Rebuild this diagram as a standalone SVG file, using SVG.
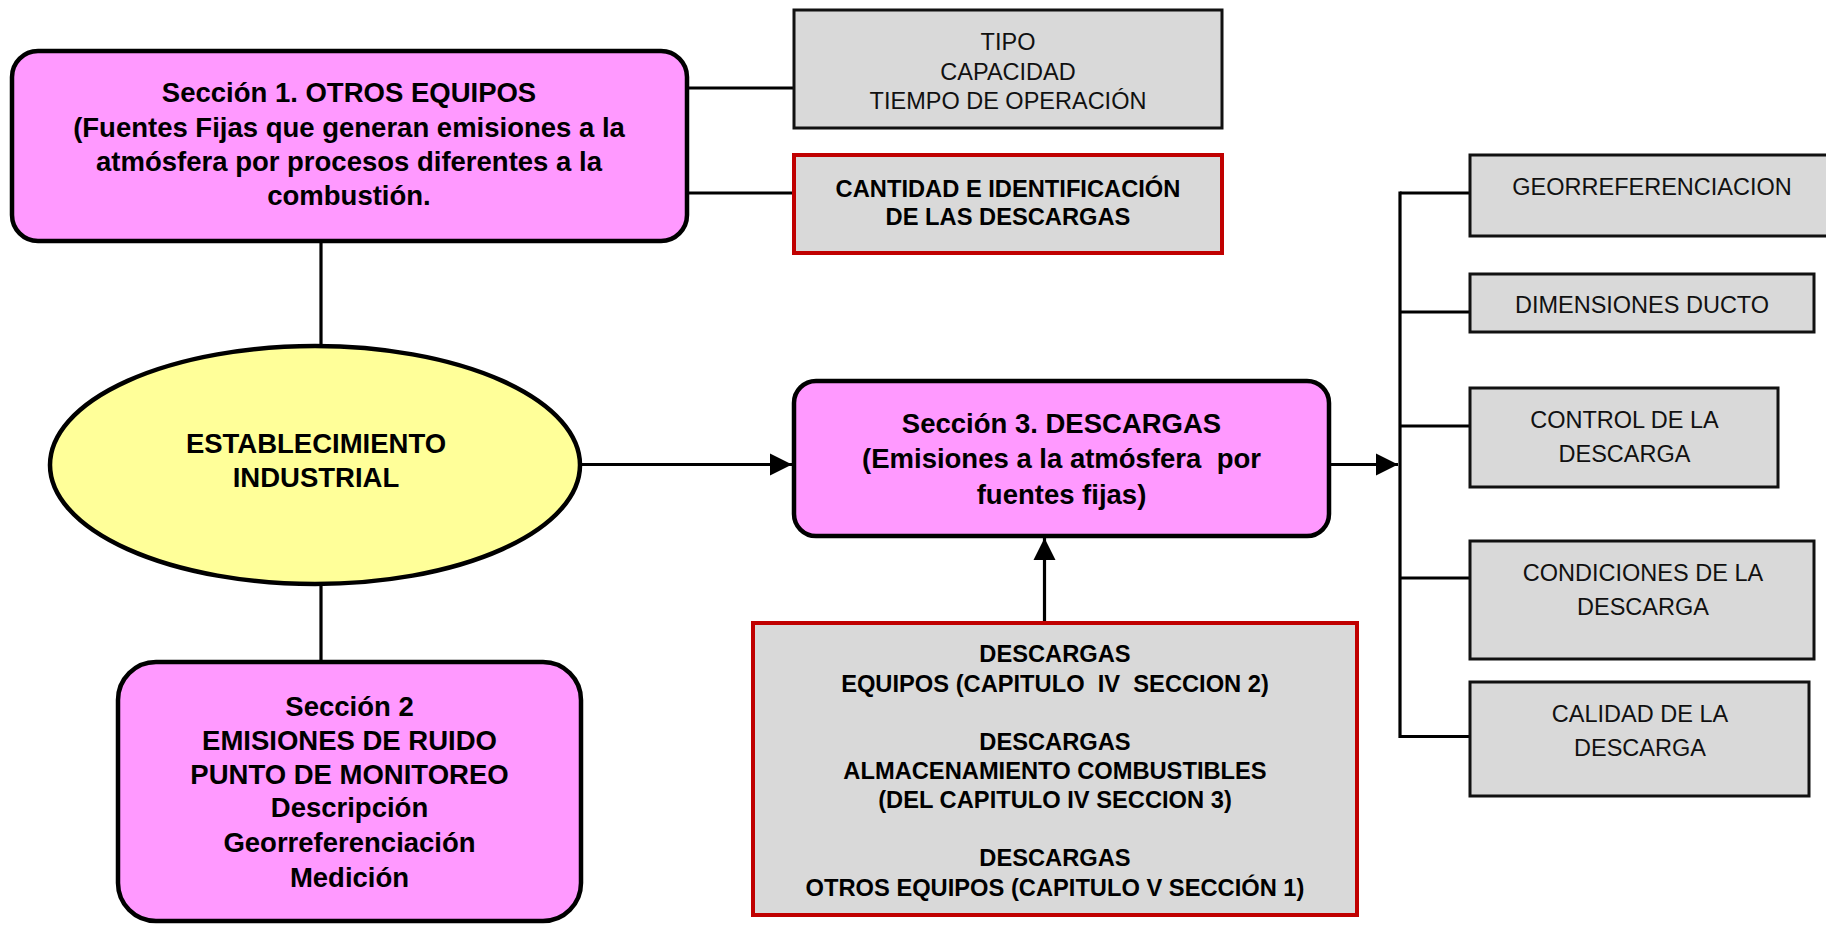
<svg xmlns="http://www.w3.org/2000/svg" width="1826" height="925" viewBox="0 0 1826 925">
<defs>
<style>
.pink{fill:#ff99ff;stroke:#000;stroke-width:4.5}
.yel{fill:#ffff99;stroke:#000;stroke-width:4.5}
.gray{fill:#d9d9d9;stroke:#111;stroke-width:3}
.red{fill:#d9d9d9;stroke:#c00000;stroke-width:4}
.b27{font-family:"Liberation Sans",Arial,sans-serif;font-weight:bold;font-size:27.5px;fill:#000;text-anchor:middle}
.b23{font-family:"Liberation Sans",Arial,sans-serif;font-weight:bold;font-size:23.7px;fill:#000;text-anchor:middle}
.r23{font-family:"Liberation Sans",Arial,sans-serif;font-size:23.5px;fill:#111;text-anchor:middle}
.ln{stroke:#000;stroke-width:3.2;fill:none}
</style>
<marker id="ah" markerWidth="7" markerHeight="7" refX="7" refY="3.5" orient="auto" markerUnits="strokeWidth">
<path d="M0,0 L7,3.5 L0,7 Z" fill="#000"/>
</marker>
</defs>
<rect width="1826" height="925" fill="#fff"/>
<g id="connectors">
<line class="ln" x1="687" y1="88" x2="794" y2="88"/>
<line class="ln" x1="687" y1="193" x2="794" y2="193"/>
<line class="ln" x1="321" y1="241" x2="321" y2="346"/>
<line class="ln" x1="321" y1="584" x2="321" y2="662"/>
<line class="ln" x1="580" y1="464.5" x2="792" y2="464.5" marker-end="url(#ah)"/>
<line class="ln" x1="1329" y1="464.5" x2="1398" y2="464.5" marker-end="url(#ah)"/>
<line class="ln" x1="1044.5" y1="623" x2="1044.5" y2="538" marker-end="url(#ah)"/>
<line class="ln" x1="1400" y1="191.5" x2="1400" y2="738"/>
<line class="ln" x1="1400" y1="193" x2="1470" y2="193"/>
<line class="ln" x1="1400" y1="312" x2="1470" y2="312"/>
<line class="ln" x1="1400" y1="426" x2="1470" y2="426"/>
<line class="ln" x1="1400" y1="578" x2="1470" y2="578"/>
<line class="ln" x1="1400" y1="736.5" x2="1470" y2="736.5"/>
</g>
<g id="seccion1">
<rect class="pink" x="12" y="51" width="675" height="190" rx="26"/>
<text class="b27" x="349" y="101.5">Sección 1. OTROS EQUIPOS</text>
<text class="b27" x="349" y="136.5">(Fuentes Fijas que generan emisiones a la</text>
<text class="b27" x="349" y="171">atmósfera por procesos diferentes a la</text>
<text class="b27" x="349" y="205">combustión.</text>
</g>
<g id="tipo">
<rect class="gray" x="794" y="10" width="428" height="118"/>
<text class="r23" x="1008" y="50">TIPO</text>
<text class="r23" x="1008" y="80">CAPACIDAD</text>
<text class="r23" x="1008" y="109">TIEMPO DE OPERACIÓN</text>
</g>
<g id="cantidad">
<rect class="red" x="794" y="155" width="428" height="98"/>
<text class="b23" x="1008" y="197">CANTIDAD E IDENTIFICACIÓN</text>
<text class="b23" x="1008" y="225">DE LAS DESCARGAS</text>
</g>
<g id="establecimiento">
<ellipse class="yel" cx="315" cy="465" rx="265" ry="119"/>
<text class="b27" x="316" y="453">ESTABLECIMIENTO</text>
<text class="b27" x="316" y="487">INDUSTRIAL</text>
</g>
<g id="seccion2">
<rect class="pink" x="118" y="662" width="463" height="259" rx="38"/>
<text class="b27" x="349.5" y="716">Sección 2</text>
<text class="b27" x="349.5" y="750">EMISIONES DE RUIDO</text>
<text class="b27" x="349.5" y="784">PUNTO DE MONITOREO</text>
<text class="b27" x="349.5" y="817">Descripción</text>
<text class="b27" x="349.5" y="852">Georreferenciación</text>
<text class="b27" x="349.5" y="886.5">Medición</text>
</g>
<g id="seccion3">
<rect class="pink" x="794" y="381" width="535" height="155" rx="22"/>
<text class="b27" x="1061.5" y="432.5" xml:space="preserve">Sección 3. DESCARGAS</text>
<text class="b27" x="1061.5" y="468" xml:space="preserve">(Emisiones a la atmósfera  por</text>
<text class="b27" x="1061.5" y="504">fuentes fijas)</text>
</g>
<g id="descargas">
<rect class="red" x="753" y="623" width="604" height="292"/>
<text class="b23" x="1055" y="662">DESCARGAS</text>
<text class="b23" x="1055" y="692" xml:space="preserve">EQUIPOS (CAPITULO  IV  SECCION 2)</text>
<text class="b23" x="1055" y="749.5">DESCARGAS</text>
<text class="b23" x="1055" y="779">ALMACENAMIENTO COMBUSTIBLES</text>
<text class="b23" x="1055" y="808">(DEL CAPITULO IV SECCION 3)</text>
<text class="b23" x="1055" y="866">DESCARGAS</text>
<text class="b23" x="1055" y="896">OTROS EQUIPOS (CAPITULO V SECCIÓN 1)</text>
</g>
<g id="georref">
<rect class="gray" x="1470" y="155" width="365" height="81"/>
<text class="r23" x="1652" y="195">GEORREFERENCIACION</text>
</g>
<g id="dimensiones">
<rect class="gray" x="1470" y="274" width="344" height="58"/>
<text class="r23" x="1642" y="313">DIMENSIONES DUCTO</text>
</g>
<g id="control">
<rect class="gray" x="1470" y="388" width="308" height="99"/>
<text class="r23" x="1624.5" y="428">CONTROL DE LA</text>
<text class="r23" x="1624.5" y="462">DESCARGA</text>
</g>
<g id="condiciones">
<rect class="gray" x="1470" y="541" width="344" height="118"/>
<text class="r23" x="1643" y="581">CONDICIONES DE LA</text>
<text class="r23" x="1643" y="614.5">DESCARGA</text>
</g>
<g id="calidad">
<rect class="gray" x="1470" y="682" width="339" height="114"/>
<text class="r23" x="1640" y="722">CALIDAD DE LA</text>
<text class="r23" x="1640" y="756">DESCARGA</text>
</g>
</svg>
